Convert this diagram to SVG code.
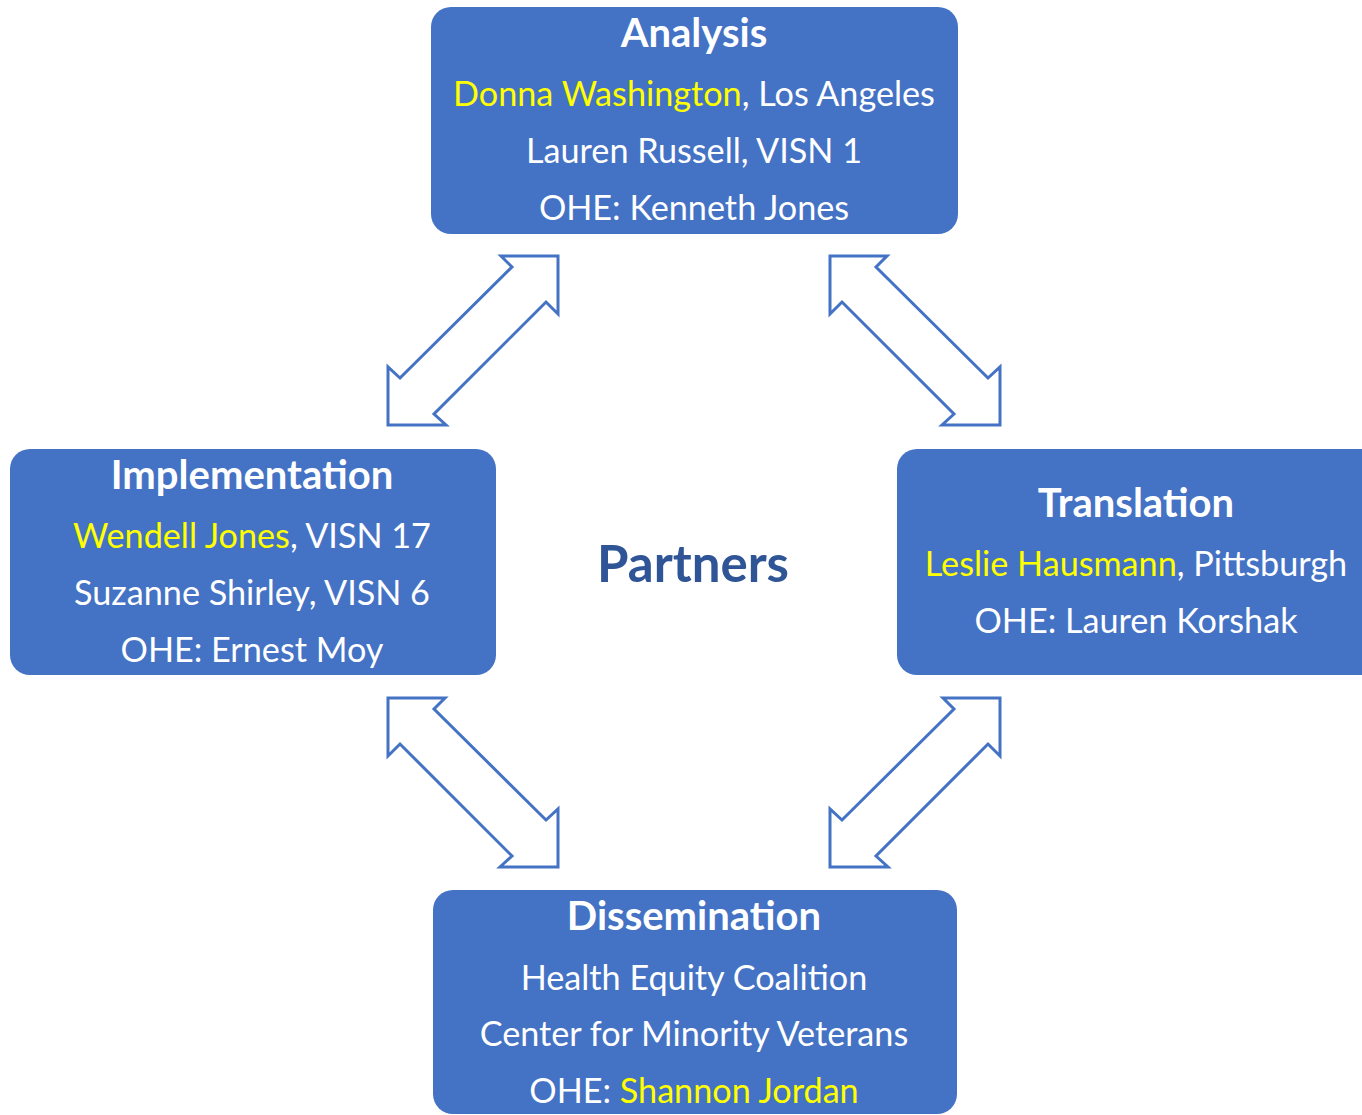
<svg xmlns="http://www.w3.org/2000/svg" xmlns:xlink="http://www.w3.org/1999/xlink" width="1362" height="1115" viewBox="0 0 1362 1115">
<style>
.box{fill:#4472C4;}
.t{font-family:Lato,"Liberation Sans",sans-serif;fill:#FFFFFF;text-anchor:middle;}
.h{font-size:40px;font-weight:bold;}
.l{font-size:34.2px;}
.y{fill:#FFFF00;}
.arr{fill:#FFFFFF;stroke:#4472C4;stroke-width:3;stroke-linejoin:miter;}
.p{font-family:Lato,"Liberation Sans",sans-serif;font-size:51px;font-weight:bold;fill:#2F5597;text-anchor:middle;}
</style>
<defs>
<polygon id="fwd" class="arr" points="170,0 113,0 124,11 12,122 0,111 0,169 58,169 46,158 158,46 170,58"/>
<polygon id="bwd" class="arr" points="0,0 57,0 46,11 158,122 170,111 170,169 112,169 124,158 12,46 0,58"/>
</defs>
<rect width="1362" height="1115" fill="#FFFFFF"/>
<g id="connectors">
<use xlink:href="#fwd" x="388" y="256"/>
<use xlink:href="#bwd" x="830" y="256"/>
<use xlink:href="#bwd" x="388" y="698"/>
<use xlink:href="#fwd" x="830" y="698"/>
</g>
<g id="analysis">
<rect class="box" x="431" y="7" width="527" height="227" rx="20"/>
<text class="t h" x="694" y="47">Analysis</text>
<text class="t l" x="694" y="106"><tspan class="y">Donna Washington</tspan>, Los Angeles</text>
<text class="t l" x="694" y="163">Lauren Russell, VISN 1</text>
<text class="t l" x="694" y="220">OHE: Kenneth Jones</text>
</g>
<g id="implementation">
<rect class="box" x="10" y="449" width="486" height="226" rx="20"/>
<text class="t h" x="252" y="489">Implementation</text>
<text class="t l" x="252" y="548"><tspan class="y">Wendell Jones</tspan>, VISN 17</text>
<text class="t l" x="252" y="605">Suzanne Shirley, VISN 6</text>
<text class="t l" x="252" y="662">OHE: Ernest Moy</text>
</g>
<g id="translation">
<rect class="box" x="897" y="449" width="490" height="226" rx="20"/>
<text class="t h" x="1136" y="517">Translation</text>
<text class="t l" x="1136" y="576"><tspan class="y">Leslie Hausmann</tspan>, Pittsburgh</text>
<text class="t l" x="1136" y="633">OHE: Lauren Korshak</text>
</g>
<g id="dissemination">
<rect class="box" x="433" y="890" width="524" height="224" rx="20"/>
<text class="t h" x="694" y="930">Dissemination</text>
<text class="t l" x="694" y="990">Health Equity Coalition</text>
<text class="t l" x="694" y="1046">Center for Minority Veterans</text>
<text class="t l" x="694" y="1103">OHE: <tspan class="y">Shannon Jordan</tspan></text>
</g>
<g id="partners">
<text class="p" x="693" y="582">Partners</text>
</g>
</svg>
